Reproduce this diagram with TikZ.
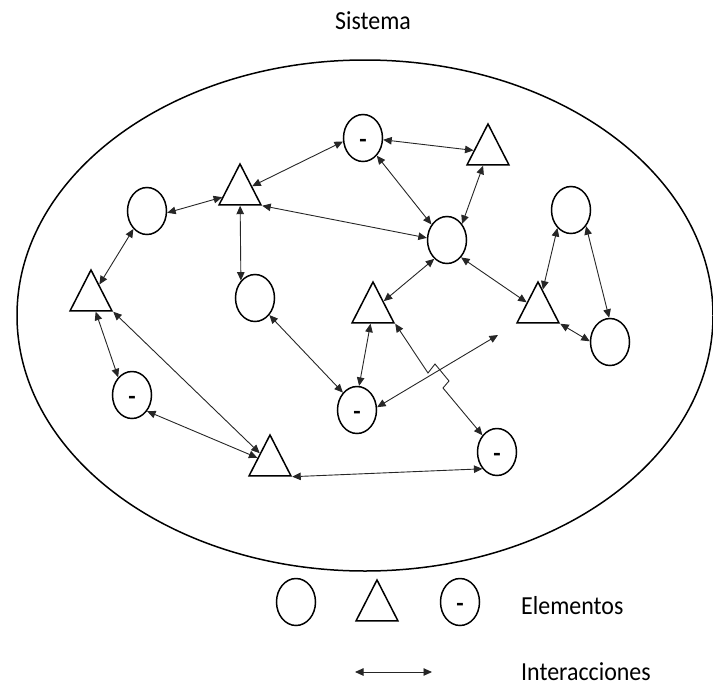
\documentclass[tikz,border=0pt]{standalone}
\usepackage{fontspec}
\usepackage{graphicx}
\setmainfont{Carlito}
\usetikzlibrary{shapes.geometric,arrows.meta}
\newcommand{\dashmark}{\raisebox{-9pt}{\textbf{-}}}
\begin{document}
\begin{tikzpicture}[x=1pt,y=-1pt,
  elem/.style={draw=black,line width=1.5pt,ellipse,minimum width=39pt,minimum height=47pt,inner sep=0pt,text height=0pt,text depth=0pt,font=\fontsize{24}{26}\selectfont},
  tri/.style={draw=black,line width=1.5pt,isosceles triangle,isosceles triangle stretches,shape border rotate=90,minimum width=42pt,minimum height=41pt,inner sep=0pt,anchor=apex},
  link/.style={line width=0.9pt,draw=black!85,{Triangle[length=8.5pt,width=7.5pt]}-{Triangle[length=8.5pt,width=7.5pt]}},
  lbl/.style={font=\fontsize{26}{30}\selectfont,inner sep=0pt}]
\useasboundingbox (0,0) rectangle (713,686);
% system boundary
\node[draw=black,line width=1.5pt,ellipse,minimum width=696pt,minimum height=511pt,inner sep=0pt] (sys) at (365,315.5) {};
\node[lbl,anchor=base] (title) at (373,29) {\scalebox{0.92}[1]{Sistema}};
% elements
\node[elem] (d1) at (363,138) {\dashmark};
\node[tri] (t1) at (488,122) {};
\node[elem] (c1) at (447,240) {};
\node[tri] (t2) at (240,162) {};
\node[elem] (c2) at (147,211) {};
\node[tri] (t3) at (91,268) {};
\node[elem] (c3) at (255,298) {};
\node[elem] (d2) at (132,395) {\dashmark};
\node[tri] (t4) at (270,433) {};
\node[tri] (t5) at (373,280) {};
\node[tri] (t6) at (538,280) {};
\node[elem] (d3) at (357,410) {\dashmark};
\node[elem] (d4) at (497,452) {\dashmark};
\node[elem] (c4) at (571,210) {};
\node[elem] (c5) at (610,342) {};
\coordinate (f) at (498,335);
% interactions
\draw[link] (d1.190) -- (t2);
\draw[link] (d1.355) -- (t1);
\draw[link] (d1.308) -- (c1.135);
\draw[link] (t1) -- (c1.47);
\draw[link] (t2.right corner) -- (c1.174);
\draw[link] (t2) -- (c2.355);
\draw[link] (t2) -- (c3.129);
\draw[link] (c2.233) -- (t3);
\draw[link] (t3) -- (d2.128);
\draw[link] (t3.right corner) -- (t4);
\draw[link] (d2.313) -- (t4);
\draw[link] (t4.right corner) -- (d4.229);
\draw[link] (c3.310) -- (d3.129);
\draw[link] (t5) -- (c1.236);
\draw[link] (c1.309) -- (t6);
\draw[link] (t5) -- (d3.85);
\draw[link] (t5.right corner) -- (428,373) -- (435,364) -- (449,381) -- (443,388) -- (d4.131);
\draw[link] (d3.8) -- (f);
\draw[link] (t6) -- (c4.233);
\draw[link] (c4.313) -- (c5.92);
\draw[link] (t6.right corner) -- (c5.178);
% legend
\node[elem] (lc) at (296,602) {};
\node[tri] (lt) at (377,578) {};
\node[elem] (ld) at (460,602) {\dashmark};
\node[lbl,anchor=base west] (le) at (521,614) {\scalebox{0.92}[1]{Elementos}};
\coordinate (la) at (355,672);
\coordinate (lb) at (432,672);
\draw[link] (la) -- (lb);
\node[lbl,anchor=base west] (li) at (521,680) {\scalebox{0.92}[1]{Interacciones}};
\end{tikzpicture}
\end{document}
